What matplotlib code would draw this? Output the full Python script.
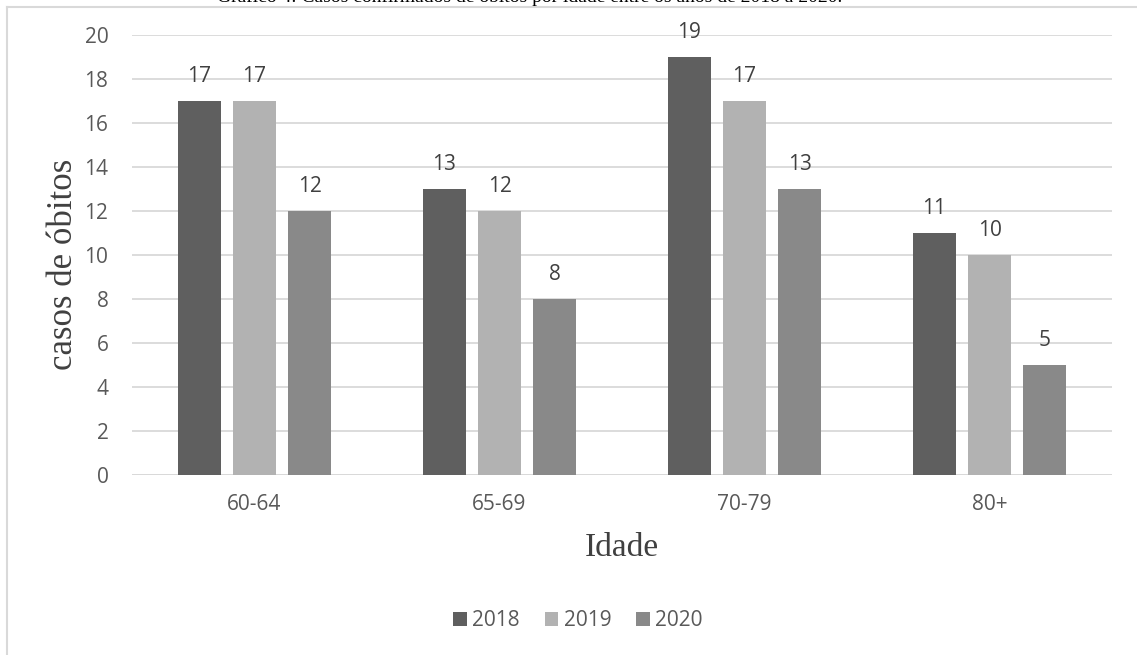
import numpy as np
import matplotlib.pyplot as plt
from matplotlib.lines import Line2D

# data
idades = ['60-64', '65-69', '70-79', '80+']
anos = ['2018', '2019', '2020']
casos_2018 = [17, 13, 19, 11]
casos_2019 = [17, 12, 17, 10]
casos_2020 = [12, 8, 13, 5]
cores = ['#5f5f5f', '#b2b2b2', '#898989']

fig = plt.figure(figsize=(11.37, 6.55), dpi=100)
ax = fig.add_axes([132/1137, 1 - 475/655, 980/1137, 440/655])

x = np.arange(len(idades))
w = 0.175
off = 0.2245
series = [casos_2018, casos_2019, casos_2020]
for i, (vals, cor, ano) in enumerate(zip(series, cores, anos)):
    bars = ax.bar(x + (i - 1) * off, vals, width=w, color=cor, label=ano, zorder=3)
    for b, v in zip(bars, vals):
        ax.text(b.get_x() + b.get_width() / 2, v + 0.85, str(v), ha='center', va='baseline',
                fontsize=15, color='#404040', family='Open Sans')

ax.set_xlim(-0.5, 3.5)
ax.set_ylim(0, 20)
ax.set_yticks(range(0, 21, 2))
ax.set_xticks(x)
ax.set_xticklabels(idades)
ax.yaxis.grid(True, color='#d9d9d9', linewidth=1.3, zorder=0)
for s in ax.spines.values():
    s.set_visible(False)
ax.axhline(0, color='#d9d9d9', linewidth=1.3, zorder=2)
ax.tick_params(length=0, labelsize=15, colors='#595959')
ax.tick_params(axis='x', pad=14)
ax.tick_params(axis='y', pad=17)
for lab in ax.get_xticklabels() + ax.get_yticklabels():
    lab.set_family('Open Sans')

# axis titles
fig.text(63/1137, 1 - 264/655, 'casos de óbitos', family='Liberation Serif', fontsize=25,
         color='#404040', rotation=90, ha='center', va='center')
fig.text(622/1137, 1 - 548/655, 'Idade', family='Liberation Serif', fontsize=24,
         color='#404040', ha='center', va='center')

# title, clipped at the top of the image
fig.text(530/1137, 1 - 2.5/655, 'Gráfico 4: Casos confirmados de óbitos por idade entre os anos de 2018 a 2020.',
         family='Liberation Serif', fontsize=14, ha='center', va='baseline', color='black')

# chart frame
fig.add_artist(Line2D([7/1137, 7/1137], [0, 1 - 7/655], transform=fig.transFigure, color='#d9d9d9', lw=1.5))
fig.add_artist(Line2D([7/1137, 1], [1 - 7/655, 1 - 7/655], transform=fig.transFigure, color='#d9d9d9', lw=1.5))

fig.legend(loc='center', bbox_to_anchor=(578/1137, 1 - 621/655), ncol=3, frameon=False,
           prop={'family': 'Open Sans', 'size': 15}, handlelength=0.65, handleheight=0.65,
           handletextpad=0.25, columnspacing=1.2, labelcolor='#595959')

fig.savefig('out.png', dpi=100)
